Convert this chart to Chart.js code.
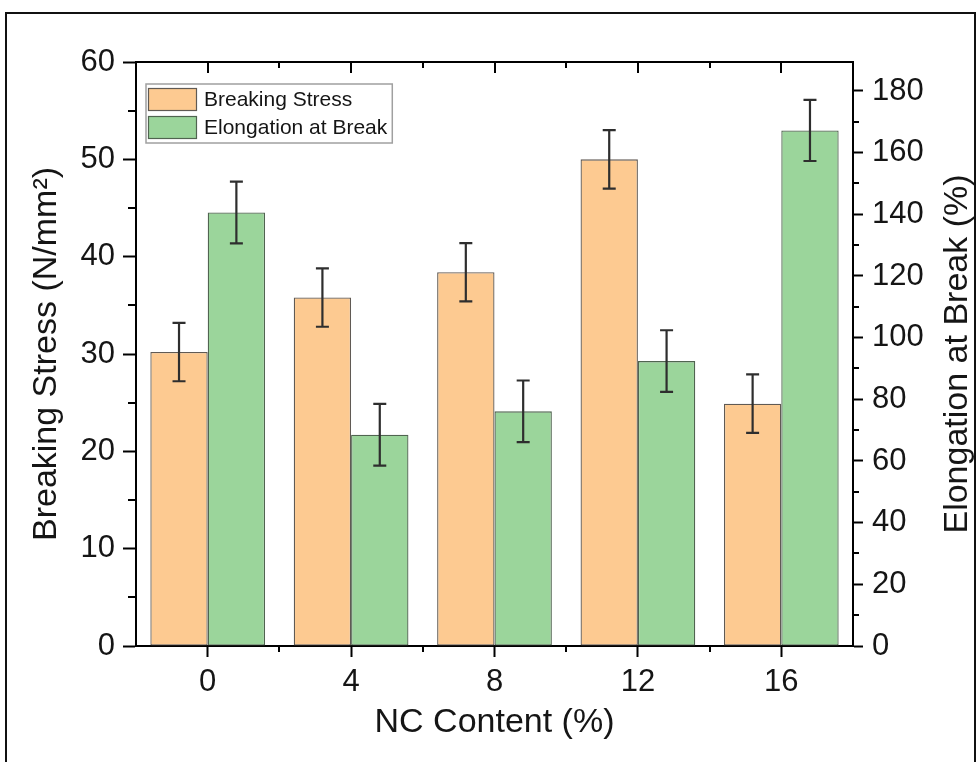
<!DOCTYPE html>
<html>
<head>
<meta charset="utf-8">
<title>Breaking stress and elongation vs NC content</title>
<script src="https://cdn.jsdelivr.net/npm/chart.js@4.4.0/dist/chart.umd.min.js"></script>
<style>
  html, body { margin: 0; padding: 0; background: #fff; }
  #wrap { width: 979px; height: 762px; }
</style>
</head>
<body>
<div id="wrap"><canvas id="myChart" width="979" height="762"></canvas></div>
<script>
// NC content groups and the two measured properties (mean and error)
const ncContent = ['0', '4', '8', '12', '16'];
const breakingStress = [30.2, 35.8, 38.4, 50.0, 24.9];
const breakingStressErr = [3.0, 3.0, 3.0, 3.0, 3.0];
const elongation = [140.6, 68.5, 76.1, 92.4, 167.2];
const elongationErr = [10.0, 10.0, 10.0, 10.0, 9.9];

// axis ticks
const stressTicks = [0, 10, 20, 30, 40, 50, 60];
const stressMinor = [5, 15, 25, 35, 45, 55];
const elongationTicks = [0, 20, 40, 60, 80, 100, 120, 140, 160, 180];
const elongationMinor = [10, 30, 50, 70, 90, 110, 130, 150, 170];

const FONT = '"Liberation Sans", Arial, Helvetica, sans-serif';
const INK = '#151515';

// error bars, drawn on top of each bar from the dataset's `errors` array
const errorBars = {
  id: 'errorBars',
  afterDatasetsDraw(chart) {
    const ctx = chart.ctx;
    ctx.save();
    ctx.strokeStyle = '#2e2e2e';
    ctx.lineWidth = 2.2;
    chart.data.datasets.forEach((ds, i) => {
      const meta = chart.getDatasetMeta(i);
      const scale = chart.scales[meta.yAxisID];
      meta.data.forEach((bar, j) => {
        const v = ds.data[j], e = ds.errors[j];
        const yt = scale.getPixelForValue(v + e);
        const yb = scale.getPixelForValue(v - e);
        const cap = 6.5;
        ctx.beginPath();
        ctx.moveTo(bar.x, yt); ctx.lineTo(bar.x, yb);
        ctx.moveTo(bar.x - cap, yt); ctx.lineTo(bar.x + cap, yt);
        ctx.moveTo(bar.x - cap, yb); ctx.lineTo(bar.x + cap, yb);
        ctx.stroke();
      });
    });
    ctx.restore();
  }
};

// top axis line, mirrored ticks and minor ticks
const axisDecor = {
  id: 'axisDecor',
  afterDraw(chart) {
    const {ctx, chartArea: a, scales} = chart;
    const x = scales.x, y = scales.y, y2 = scales.y2;
    ctx.save();
    ctx.strokeStyle = '#000';
    ctx.lineWidth = 2;
    ctx.beginPath();
    ctx.moveTo(a.left - 1, a.top); ctx.lineTo(a.right + 1, a.top);
    // minor ticks on the left axis
    stressMinor.forEach(v => {
      const py = Math.round(y.getPixelForValue(v));
      ctx.moveTo(a.left, py); ctx.lineTo(a.left - 8, py);
    });
    // minor ticks on the right axis
    elongationMinor.forEach(v => {
      const py = Math.round(y2.getPixelForValue(v));
      ctx.moveTo(a.right, py); ctx.lineTo(a.right + 6, py);
    });
    // bottom minor ticks between groups, top axis ticks pointing inward
    ncContent.forEach((c, i) => {
      const px = Math.round(x.getPixelForValue(i));
      ctx.moveTo(px, a.top); ctx.lineTo(px, a.top + 11);
      if (i > 0) {
        const mid = Math.round((x.getPixelForValue(i - 1) + x.getPixelForValue(i)) / 2);
        ctx.moveTo(mid, a.bottom); ctx.lineTo(mid, a.bottom + 6);
        ctx.moveTo(mid, a.top); ctx.lineTo(mid, a.top + 6);
      }
    });
    ctx.stroke();

    // right axis title reads bottom to top, like the left one
    ctx.fillStyle = INK;
    ctx.font = '34px ' + FONT;
    ctx.textAlign = 'center';
    ctx.textBaseline = 'middle';
    ctx.translate(958, (a.top + a.bottom) / 2);
    ctx.rotate(-Math.PI / 2);
    ctx.fillText('Elongation at Break (%)', 0, 0);
    ctx.restore();

    // outer frame
    ctx.save();
    ctx.strokeStyle = '#111';
    ctx.lineWidth = 2;
    ctx.strokeRect(6, 13, 969, 800);
    ctx.restore();
  }
};

// boxed legend in the upper left of the plot
const legendBox = {
  id: 'legendBox',
  afterDraw(chart) {
    const {ctx, chartArea: a} = chart;
    const x0 = a.left + 10, y0 = a.top + 22;
    const sw = 49, sh = 23, row = 28;
    ctx.save();
    ctx.font = '21px ' + FONT;
    const sets = chart.data.datasets;
    const textW = Math.max(...sets.map(d => ctx.measureText(d.label).width));
    const w = 2 + sw + 7 + textW + 5;
    const h = 4 + row * sets.length - 1;
    ctx.fillStyle = '#fff';
    ctx.fillRect(x0, y0, w, h);
    ctx.strokeStyle = '#a0a0a0';
    ctx.lineWidth = 1.5;
    ctx.strokeRect(x0, y0, w, h);
    sets.forEach((d, i) => {
      const sy = y0 + 4 + i * row;
      ctx.fillStyle = d.backgroundColor;
      ctx.fillRect(x0 + 2, sy, sw, sh);
      ctx.strokeStyle = d.borderColor;
      ctx.lineWidth = 1.2;
      ctx.strokeRect(x0 + 2.5, sy + 0.5, sw - 1, sh - 1);
      ctx.fillStyle = INK;
      ctx.textAlign = 'left';
      ctx.textBaseline = 'middle';
      ctx.fillText(d.label, x0 + 2 + sw + 7, sy + sh / 2 + 1);
    });
    ctx.restore();
  }
};

const ctx = document.getElementById('myChart').getContext('2d');

const data = {
  labels: ncContent,
  datasets: [
    {
      label: 'Breaking Stress',
      data: breakingStress,
      errors: breakingStressErr,
      yAxisID: 'y',
      backgroundColor: 'rgb(253, 202, 145)',
      borderColor: 'rgb(96, 90, 84)',
      borderWidth: 1.3,
      borderSkipped: false,
      categoryPercentage: 0.8,
      barPercentage: 1.0
    },
    {
      label: 'Elongation at Break',
      data: elongation,
      errors: elongationErr,
      yAxisID: 'y2',
      backgroundColor: 'rgb(155, 213, 155)',
      borderColor: 'rgb(80, 100, 80)',
      borderWidth: 1.3,
      borderSkipped: false,
      categoryPercentage: 0.8,
      barPercentage: 1.0
    }
  ]
};

const tickFont = { family: FONT, size: 31 };
const titleFont = { family: FONT, size: 34 };

const config = {
  type: 'bar',
  data: data,
  options: {
    responsive: false,
    animation: false,
    layout: { padding: { top: 62, left: 0, right: 0, bottom: 0 } },
    plugins: {
      legend: { display: false },
      tooltip: { enabled: false }
    },
    scales: {
      x: {
        offset: true,
        grid: { drawOnChartArea: false, offset: false, tickLength: 11, tickWidth: 2, tickColor: '#000' },
        border: { color: '#000', width: 2 },
        ticks: { font: tickFont, color: INK, padding: 7, maxRotation: 0 },
        title: { display: true, text: 'NC Content (%)', font: titleFont, color: INK, padding: { top: 0, bottom: 19 } },
        afterFit: (s) => { s.height = 116; }
      },
      y: {
        position: 'left',
        min: 0,
        max: 60,
        afterBuildTicks: (s) => { s.ticks = stressTicks.map(v => ({ value: v })); },
        grid: { drawOnChartArea: false, tickLength: 13, tickWidth: 2, tickColor: '#000' },
        border: { color: '#000', width: 2 },
        ticks: { font: tickFont, color: INK, padding: 8 },
        title: { display: true, text: 'Breaking Stress (N/mm²)', font: titleFont, color: INK, padding: { top: 26, bottom: 0 } },
        afterFit: (s) => { s.width = 136; }
      },
      y2: {
        position: 'right',
        min: 0,
        max: 189.4,
        afterBuildTicks: (s) => { s.ticks = elongationTicks.map(v => ({ value: v })); },
        grid: { drawOnChartArea: false, tickLength: 10, tickWidth: 2, tickColor: '#000' },
        border: { color: '#000', width: 2 },
        ticks: { font: tickFont, color: INK, padding: 9 },
        afterFit: (s) => { s.width = 126; }
      }
    }
  },
  plugins: [errorBars, axisDecor, legendBox]
};

const myChart = new Chart(ctx, config);
</script>
</body>
</html>
